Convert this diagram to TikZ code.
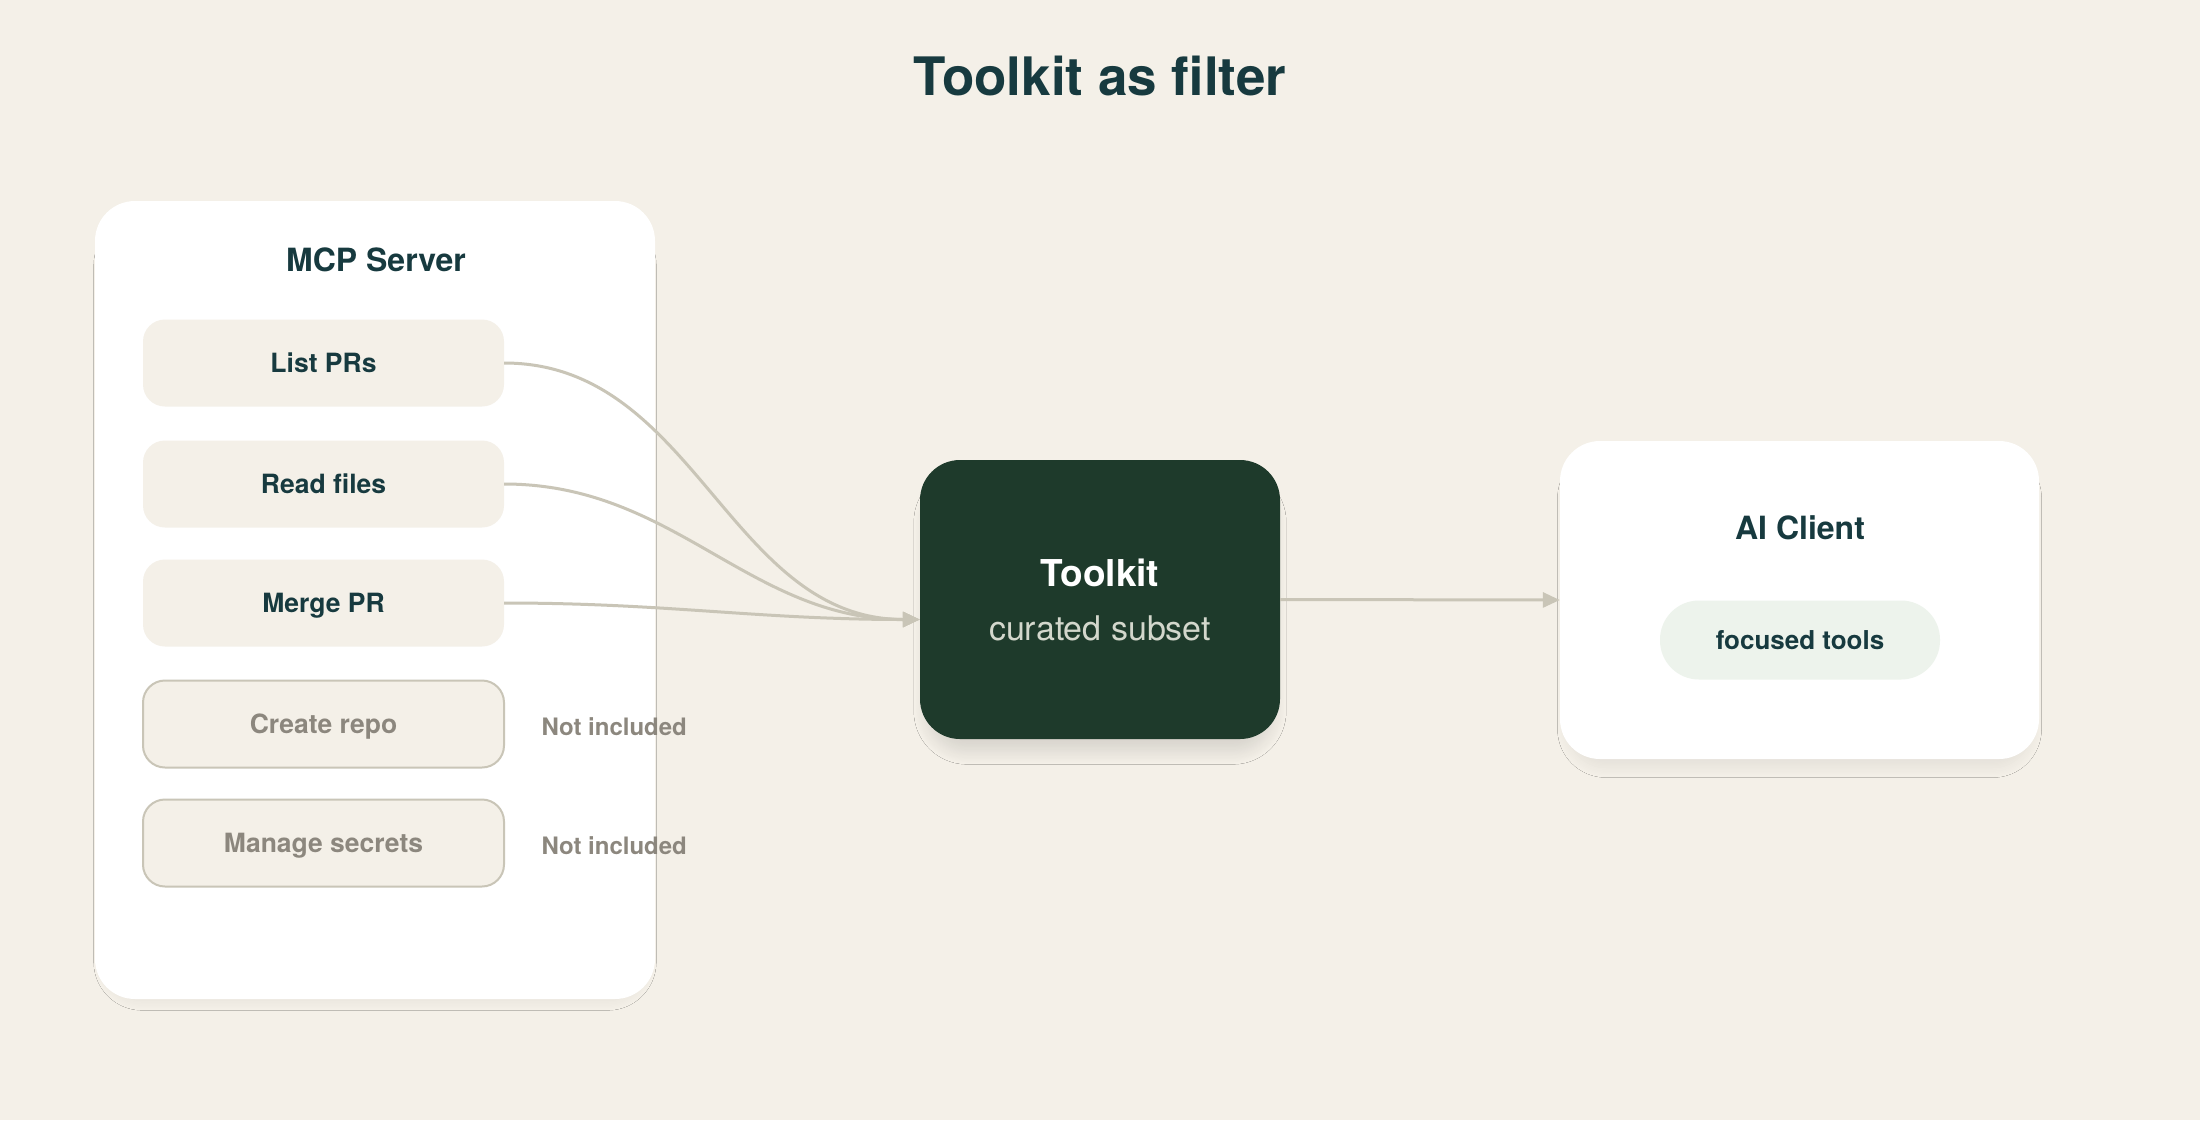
\documentclass[tikz,border=0pt]{standalone}
\usepackage{fontspec}
\setmainfont{TeX Gyre Heros}
\usetikzlibrary{arrows.meta,shadows.blur}
\definecolor{paper}{HTML}{F4F0E8}
\definecolor{ink}{HTML}{173A3F}
\definecolor{pine}{HTML}{1E3A2B}
\definecolor{wire}{HTML}{C9C5B7}
\definecolor{muted}{HTML}{8C877E}
\definecolor{mint}{HTML}{EDF3EC}
\definecolor{pale}{HTML}{D3D7CC}
\begin{document}
\begin{tikzpicture}[x=1pt,y=-1pt,
  panel/.style={fill=white,rounded corners=40pt,inner sep=0pt,
    blur shadow={shadow xshift=0pt,shadow yshift=-14pt,shadow scale=0.97,shadow blur radius=10pt,
      shadow blur steps=16,shadow opacity=6}},
  toolbox/.style={fill=paper,rounded corners=22pt,minimum width=361pt,minimum height=87pt,
    inner sep=0pt,text=ink,font=\fontsize{26.5}{32}\selectfont\bfseries,text height=19pt,text depth=0pt},
  offbox/.style={toolbox,draw=wire,line width=2pt,text=muted},
  offnote/.style={anchor=west,text=muted,font=\fontsize{24}{30}\selectfont\bfseries},
  heading/.style={text=ink,font=\fontsize{32}{38}\selectfont\bfseries},
  wire/.style={draw=wire,line width=3pt,-{Triangle[length=17pt,width=15pt]}}]
\useasboundingbox[fill=paper] (0,0) rectangle (2200,1120);

% title
\node[text=ink,font=\fontsize{53}{64}\selectfont\bfseries] (title) at (1100,76) {Toolkit as filter};

% server side
\node[panel,minimum width=560pt,minimum height=798pt] (server) at (375,600) {};
\node[heading] (servername) at (376,260) {MCP Server};
\node[toolbox] (listprs) at (323.5,363) {List PRs};
\node[toolbox] (readfiles) at (323.5,484) {Read files};
\node[toolbox] (mergepr) at (323.5,603) {Merge PR};
\node[offbox] (createrepo) at (323.5,724) {Create repo};
\node[offbox] (managesecrets) at (323.5,843) {Manage secrets};
\node[offnote] (notcreate) at (538,727) {Not included};
\node[offnote] (notsecrets) at (538,846) {Not included};

% toolkit
\node[fill=pine,rounded corners=40pt,minimum width=360pt,minimum height=279pt,
  align=center,text=white,font=\fontsize{37}{54}\selectfont\bfseries,
  blur shadow={shadow xshift=0pt,shadow yshift=-18pt,shadow scale=0.95,shadow blur radius=16pt,
    shadow blur steps=20,shadow opacity=14}]
  (toolkit) at (1100,599.5) {Toolkit\\{\color{pale}\mdseries\fontsize{34}{54}\selectfont curated subset}};
\coordinate (inport) at ([yshift=-20pt]toolkit.west);

% client
\node[panel,minimum width=479pt,minimum height=318pt] (client) at (1799.5,600) {};
\node[heading] (clientname) at (1800,528) {AI Client};
\node[fill=mint,rounded corners=39pt,minimum width=280pt,minimum height=79pt,inner sep=0pt,
  text=ink,font=\fontsize{26}{32}\selectfont\bfseries] (focused) at (1800,640) {focused tools};

% connectors
\draw[wire] (listprs.east) to[out=0,in=180] (inport);
\draw[wire] (readfiles.east) to[out=0,in=180] (inport);
\draw[wire] (mergepr.east) to[out=0,in=180] (inport);
\draw[wire] (toolkit.east) -- (client.west);
\end{tikzpicture}
\end{document}
